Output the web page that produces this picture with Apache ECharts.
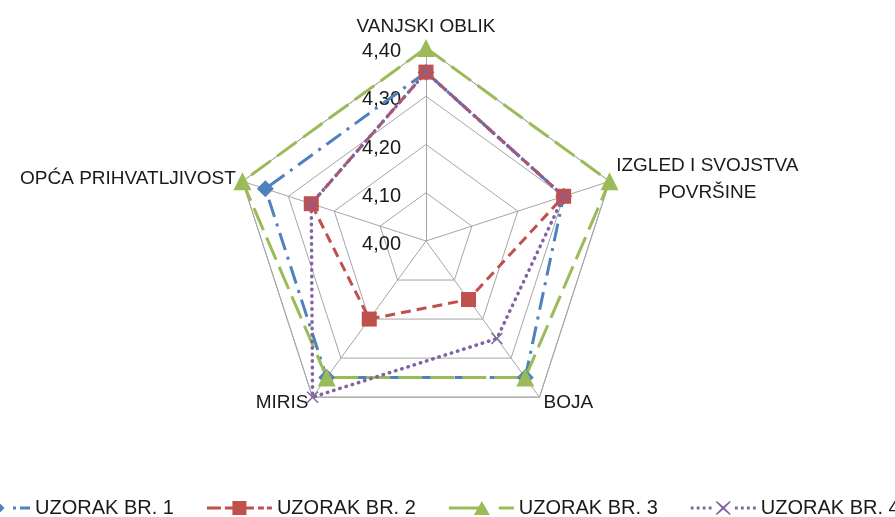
<!DOCTYPE html>
<html>
<head>
<meta charset="utf-8">
<script src="https://cdn.jsdelivr.net/npm/echarts@6/dist/echarts.min.js"></script>
<style>
  html, body { margin: 0; padding: 0; background: #fff; }
  #chart { width: 895px; height: 517px; }
</style>
</head>
<body>
<div id="chart"></div>
<script>
// axes, listed in the order echarts lays them out (from the top, going round)
var indicators = ['VANJSKI OBLIK', 'OPĆA PRIHVATLJIVOST', 'MIRIS', 'BOJA', 'IZGLED I SVOJSTVA\nPOVRŠINE'];
var seriesNames = ['UZORAK BR. 1', 'UZORAK BR. 2', 'UZORAK BR. 3', 'UZORAK BR. 4'];
var uzorak1 = [4.35, 4.35, 4.35, 4.35, 4.30];
var uzorak2 = [4.35, 4.25, 4.20, 4.15, 4.30];
var uzorak3 = [4.40, 4.40, 4.35, 4.35, 4.40];
var uzorak4 = [4.35, 4.25, 4.40, 4.25, 4.30];
var axisMin = 4.0;
var axisMax = 4.4;

var font = 'Liberation Sans';
var colors = ['#4F81BD', '#C0504D', '#9BBB59', '#8064A2'];
var xMark = 'path://M0 1L1 0L6 5L11 0L12 1L7 6L12 11L11 12L6 7L1 12L0 11L5 6Z';

// legend icons: line + marker, like the office legend
var legendIcons = [
    'path://M0 5.5h14v3h-14zM18 5.5h4v3h-4zM32.5 0L39.5 7L32.5 14L25.5 7ZM48 5.5h3v3h-3zM55 5.5h10v3h-10z',
    'path://M0 5.5h14v3h-14zM18 5.5h29v3h-29zM25.5 0h14v14h-14zM51 5.5h6v3h-6zM60 5.5h5v3h-5z',
    'path://M0 5.5h30v3h-30zM33 0L41 14L25 14ZM50 5.5h15v3h-15z',
    'path://M0 5.6h2.8v2.8h-2.8zM6 5.6h2.8v2.8h-2.8zM12 5.6h2.8v2.8h-2.8zM18 5.6h2.8v2.8h-2.8zM26 0L32.5 5.5L39 0L40 1L34 7L40 13L39 14L32.5 8.5L26 14L25 13L31 7L25 1ZM44.2 5.6h2.8v2.8h-2.8zM50.2 5.6h2.8v2.8h-2.8zM56.2 5.6h2.8v2.8h-2.8zM62.2 5.6h2.8v2.8h-2.8z'
];

var chart = echarts.init(document.getElementById('chart'));

var indicatorList = indicators.map(function (name, i) {
    var item = { name: name, min: axisMin, max: axisMax };
    if (i === 0) {
        item.axisLabel = { show: true };
    }
    return item;
});

chart.setOption({
    backgroundColor: '#fff',
    animation: false,
    color: colors,
    legend: {
        left: -40,
        top: 493,
        width: 1100,
        itemWidth: 65,
        itemHeight: 14,
        itemGap: 33,
        selectedMode: false,
        itemStyle: { borderWidth: 0 },
        textStyle: { fontFamily: font, fontSize: 20, color: '#1a1a1a' },
        data: seriesNames.map(function (n, i) {
            return { name: n, icon: legendIcons[i] };
        })
    },
    radar: {
        center: [426, 241],
        radius: 193,
        shape: 'polygon',
        splitNumber: 4,
        nameGap: 7,
        indicator: indicatorList,
        axisName: {
            color: '#1a1a1a',
            fontFamily: font,
            fontSize: 19,
            formatter: function (name) {
                if (name.indexOf('\n') >= 0) {
                    return name.split('\n').map(function (s) { return '{c|' + s + '}'; }).join('\n');
                }
                if (name === 'VANJSKI OBLIK') {
                    return '{t|' + name + '}';
                }
                return name;
            },
            rich: {
                c: { align: 'center', fontFamily: font, fontSize: 19, color: '#1a1a1a', lineHeight: 27 },
                t: { fontFamily: font, fontSize: 19, color: '#1a1a1a', padding: [0, 0, 5, 0] }
            }
        },
        axisLine: { lineStyle: { color: '#A6A6A6', width: 1 } },
        splitLine: { lineStyle: { color: '#A6A6A6', width: 1 } },
        splitArea: { show: false },
        axisTick: { show: false },
        axisLabel: {
            show: false,
            fontFamily: font,
            fontSize: 20,
            color: '#1a1a1a',
            margin: 25,
            formatter: function (v) { return '{v|' + v.toFixed(2).replace('.', ',') + '}'; },
            rich: {
                v: { fontFamily: font, fontSize: 20, color: '#1a1a1a', padding: [7, 0, 0, 0] }
            }
        }
    },
    series: [
        {
            type: 'radar',
            name: seriesNames[0],
            symbol: 'diamond',
            symbolSize: 17,
            itemStyle: { color: colors[0] },
            lineStyle: { color: colors[0], width: 3, type: [18, 7, 3, 7] },
            data: [{ value: uzorak1, name: seriesNames[0] }]
        },
        {
            type: 'radar',
            name: seriesNames[1],
            symbol: 'rect',
            symbolSize: 15,
            itemStyle: { color: colors[1] },
            lineStyle: { color: colors[1], width: 3, type: [10, 6] },
            data: [{ value: uzorak2, name: seriesNames[1] }]
        },
        {
            type: 'radar',
            name: seriesNames[2],
            symbol: 'triangle',
            symbolSize: 18,
            itemStyle: { color: colors[2] },
            lineStyle: { color: colors[2], width: 3, type: [24, 8] },
            data: [{ value: uzorak3, name: seriesNames[2] }]
        },
        {
            type: 'radar',
            name: seriesNames[3],
            symbol: xMark,
            symbolSize: 12,
            itemStyle: { color: colors[3] },
            lineStyle: { color: colors[3], width: 3.5, type: [0.5, 6], cap: 'round' },
            data: [{ value: uzorak4, name: seriesNames[3] }]
        }
    ]
});
</script>
</body>
</html>
